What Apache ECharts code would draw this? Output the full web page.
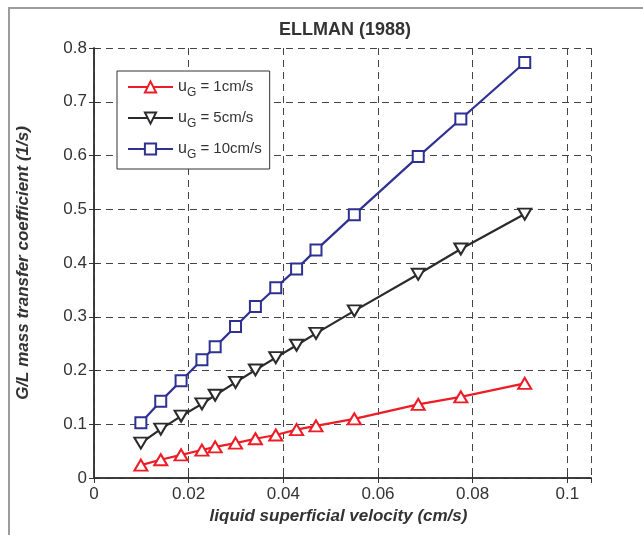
<!DOCTYPE html>
<html>
<head>
<meta charset="utf-8">
<script src="https://cdn.jsdelivr.net/npm/echarts@6/dist/echarts.min.js"></script>
<style>
  html, body { margin: 0; padding: 0; background: #fff; }
  #chart { width: 643px; height: 535px; }
</style>
</head>
<body>
<div id="chart"></div>
<script>
// Liquid superficial velocity (cm/s)
const liquidVelocity = [0.0099, 0.0141, 0.0184, 0.0228, 0.0256, 0.0299, 0.0341, 0.0384, 0.0428, 0.0469, 0.0550, 0.0685, 0.0775, 0.0910];
// G/L mass transfer coefficient (1/s) for each gas velocity
const kLa_uG1 = [0.024, 0.034, 0.043, 0.052, 0.058, 0.065, 0.073, 0.080, 0.090, 0.097, 0.110, 0.137, 0.151, 0.176];
const kLa_uG5 = [0.065, 0.091, 0.115, 0.138, 0.154, 0.178, 0.201, 0.224, 0.247, 0.269, 0.311, 0.379, 0.426, 0.491];
const kLa_uG10 = [0.103, 0.143, 0.181, 0.220, 0.244, 0.282, 0.319, 0.354, 0.389, 0.424, 0.490, 0.598, 0.668, 0.773];
const legendLabels = ['1cm/s', '5cm/s', '10cm/s'];
const xTicks = [0, 0.02, 0.04, 0.06, 0.08, 0.1];

const FONT = '"Liberation Sans", Arial, sans-serif';
const TEXT = '#333';

function pairs(ys) { return liquidVelocity.map((x, i) => [x, ys[i]]); }

function makeSeries(name, ys, color, symbol, size, rotate) {
  return {
    name: name,
    type: 'line',
    data: pairs(ys),
    symbol: symbol,
    symbolSize: size,
    symbolRotate: rotate || 0,
    showAllSymbol: true,
    color: color,
    lineStyle: { color: color, width: 2.2 },
    itemStyle: { color: color, borderWidth: 2.4 },
    emphasis: { disabled: true },
    animation: false
  };
}

const chart = echarts.init(document.getElementById('chart'), null, { renderer: 'canvas' });

const splitLine = { show: true, lineStyle: { color: '#444', type: [7, 5], width: 1 } };
const axisLine = { show: true, lineStyle: { color: '#333', width: 1.5 } };
const axisTick = { show: true, inside: true, length: 5, lineStyle: { color: '#333', width: 1 } };

chart.setOption({
  backgroundColor: '#fff',
  animation: false,
  title: {
    text: 'ELLMAN (1988)',
    left: 340,
    textAlign: 'center',
    top: 16,
    textStyle: { fontFamily: FONT, fontSize: 18, fontWeight: 'bold', color: TEXT }
  },
  graphic: [{
    type: 'rect',
    shape: { x: 9, y: 8, width: 700, height: 600 },
    style: { fill: 'none', stroke: '#9c9c9c', lineWidth: 2 },
    silent: true, z: -1
  }],
  grid: { left: 94, top: 48, right: 52, bottom: 57, show: false },
  legend: {
    left: 117, top: 71,
    orient: 'vertical',
    backgroundColor: '#fff',
    borderColor: '#333', borderWidth: 1,
    padding: [8, 8, 8, 10],
    itemWidth: 45, itemHeight: 14, itemGap: 11,
    formatter: function (name) {
      return '{u|u}{g|G}{t| = ' + name + '}';
    },
    textStyle: {
      fontFamily: FONT, color: TEXT,
      rich: {
        u: { fontSize: 16, lineHeight: 24, fontFamily: FONT, color: TEXT },
        g: { fontSize: 12, lineHeight: 12, verticalAlign: 'bottom', fontFamily: FONT, color: TEXT },
        t: { fontSize: 15, lineHeight: 24, fontFamily: FONT, color: TEXT }
      }
    },
    data: legendLabels
  },
  xAxis: [{
    type: 'value', min: 0, max: 0.105, interval: 0.02,
    name: 'liquid superficial velocity (cm/s)',
    nameLocation: 'middle', nameGap: 25,
    nameTextStyle: { fontFamily: FONT, fontSize: 17, fontWeight: 'bold', fontStyle: 'italic', color: TEXT, padding: [0, 8, 0, 0] },
    axisLine: axisLine, axisTick: axisTick, splitLine: splitLine,
    axisLabel: {
      fontFamily: FONT, fontSize: 17, color: TEXT, margin: 8, showMaxLabel: false,
      formatter: function (v) {
        const t = xTicks.find(tk => Math.abs(tk - v) < 1e-9);
        return t === undefined ? '' : String(t);
      }
    }
  }, {
    type: 'value', min: 0, max: 0.105, interval: 0.02, position: 'top',
    axisLine: axisLine, axisTick: axisTick, splitLine: { show: false }, axisLabel: { show: false }
  }],
  yAxis: [{
    type: 'value', min: 0, max: 0.8, interval: 0.1,
    name: 'G/L mass transfer coefficient (1/s)',
    nameLocation: 'middle', nameGap: 62,
    nameTextStyle: { fontFamily: FONT, fontSize: 17, fontWeight: 'bold', fontStyle: 'italic', color: TEXT },
    axisLine: axisLine, axisTick: axisTick, splitLine: splitLine,
    axisLabel: { fontFamily: FONT, fontSize: 17, color: TEXT, margin: 7 }
  }, {
    type: 'value', min: 0, max: 0.8, interval: 0.1, position: 'right',
    axisLine: axisLine, axisTick: axisTick, splitLine: { show: false }, axisLabel: { show: false }
  }],
  series: [
    makeSeries(legendLabels[0], kLa_uG1, '#ee1c25', 'emptyTriangle', [13, 11]),
    makeSeries(legendLabels[1], kLa_uG5, '#2b2b2b', 'emptyTriangle', [13, 11], 180),
    makeSeries(legendLabels[2], kLa_uG10, '#2e3192', 'emptyRect', 11)
  ]
});
</script>
</body>
</html>
